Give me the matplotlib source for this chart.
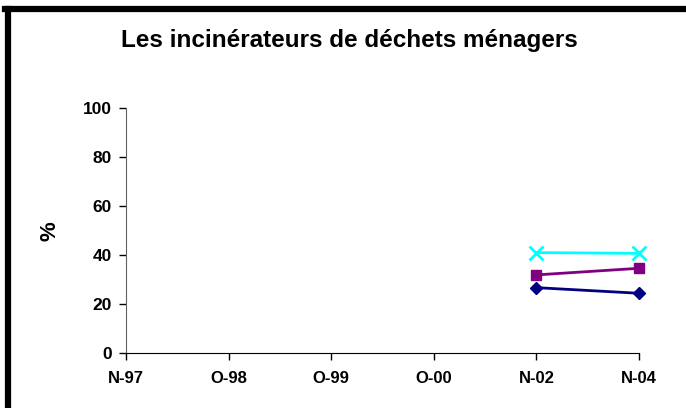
import numpy as np
import matplotlib
matplotlib.use("Agg")
import matplotlib.pyplot as plt
from matplotlib.lines import Line2D

plt.rcParams['font.family'] = ['Liberation Sans', 'DejaVu Sans']

categories = ["N-97", "O-98", "O-99", "O-00", "N-02", "N-04"]
serie_cyan = [np.nan, np.nan, np.nan, np.nan, 41.1, 40.8]
serie_purple = [np.nan, np.nan, np.nan, np.nan, 32.0, 34.7]
serie_navy = [np.nan, np.nan, np.nan, np.nan, 26.8, 24.5]
yticks = [0, 20, 40, 60, 80, 100]

fig = plt.figure(figsize=(6.86, 4.08), dpi=100)
ax = fig.add_axes([126/686, 1-353.3/408, (639-126)/686, (353.3-108.3)/408])

x = np.arange(len(categories))
ax.plot(x, serie_navy, color='#000080', marker='D', markersize=6, linewidth=2, clip_on=False)
ax.plot(x, serie_purple, color='#800080', marker='s', markersize=7.5, linewidth=2, clip_on=False)
ax.plot(x, serie_cyan, color='#00FFFF', marker='x', markersize=10, markeredgewidth=2, linewidth=2, clip_on=False)

ax.set_xlim(0, len(categories) - 1)
ax.set_ylim(0, 100)
ax.set_xticks(x)
ax.set_xticklabels(categories, fontsize=12, fontweight='bold')
ax.set_yticks(yticks)
ax.set_yticklabels([str(v) for v in yticks], fontsize=12.5, fontweight='bold')
ax.tick_params(axis='both', direction='out', length=5, width=1, colors='black', pad=5)
ax.tick_params(axis='x', pad=8)
for s in ['top', 'right']:
    ax.spines[s].set_visible(False)
ax.spines['left'].set_color('#606060')
ax.spines['bottom'].set_color('black')
ax.set_ylabel('%', fontsize=16, fontweight='bold', labelpad=16)

fig.text(349/686, 1-40.5/408, "Les incinérateurs de déchets ménagers", ha='center', va='center',
         fontsize=17.5, fontweight='bold')

# figure border (left and top only)
fig.add_artist(Line2D([7.5/686, 7.5/686], [0, 1-9/408], color='black', linewidth=4.5, transform=fig.transFigure))
fig.add_artist(Line2D([5.3/686, 1], [1-9/408, 1-9/408], color='black', linewidth=4.5, transform=fig.transFigure))

fig.savefig("out.png", dpi=100)
